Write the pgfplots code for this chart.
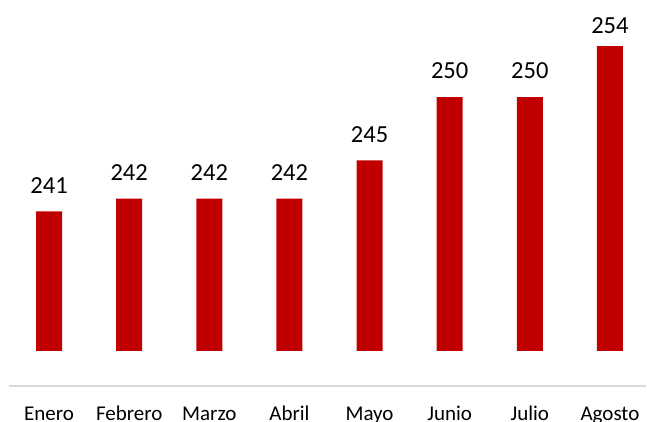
\documentclass[border=0pt]{standalone}
\usepackage{pgfplots}
\pgfplotsset{compat=1.18}
\usepackage{fontspec}
\setmainfont{Carlito}
\definecolor{barred}{HTML}{C00000}
\definecolor{axgray}{HTML}{D9D9D9}
\begin{document}
\begin{tikzpicture}
\begin{axis}[
  scale only axis,
  width=637pt, height=386pt,
  xmin=-0.5, xmax=7.45,
  ymin=-2.76, ymax=27.64,
  enlargelimits=false,
  axis y line=none,
  axis x line=bottom,
  x axis line style={-, draw=axgray, line width=2pt},
  xtick={0,1,2,3,4,5,6,7},
  xticklabels={Enero,Febrero,Marzo,Abril,Mayo,Junio,Julio,Agosto},
  major tick length=0pt,
  xticklabel style={anchor=base, yshift=-34pt, font=\fontsize{21}{25}\selectfont, inner sep=0pt},
  every node near coord/.append style={font=\fontsize{24.5}{29}\selectfont, anchor=south, inner sep=0pt, black},
  clip=false,
]
\addplot[ybar, bar width=26pt, fill=barred, draw=none, y filter/.expression={y-230},
  nodes near coords, point meta=explicit symbolic,
  every node near coord/.append style={yshift=17.7pt}] coordinates {
 (0,241) [241]
 (1,242) [242]
 (2,242) [242]
 (3,242) [242]
 (4,245) [245]
 (5,250) [250]
 (6,250) [250]
 (7,254) []
};
\addplot[draw=none, mark=none, forget plot, y filter/.expression={y-230},
  nodes near coords, point meta=explicit symbolic,
  every node near coord/.append style={yshift=12.7pt}] coordinates {
 (7,254) [254]
};
\coordinate (ll) at (rel axis cs:0,0);
\coordinate (ur) at (rel axis cs:1,1);
\end{axis}
\pgfresetboundingbox
\path ([xshift=-9pt,yshift=-35pt]ll) rectangle ([xshift=1pt]ur);
\end{tikzpicture}
\end{document}
